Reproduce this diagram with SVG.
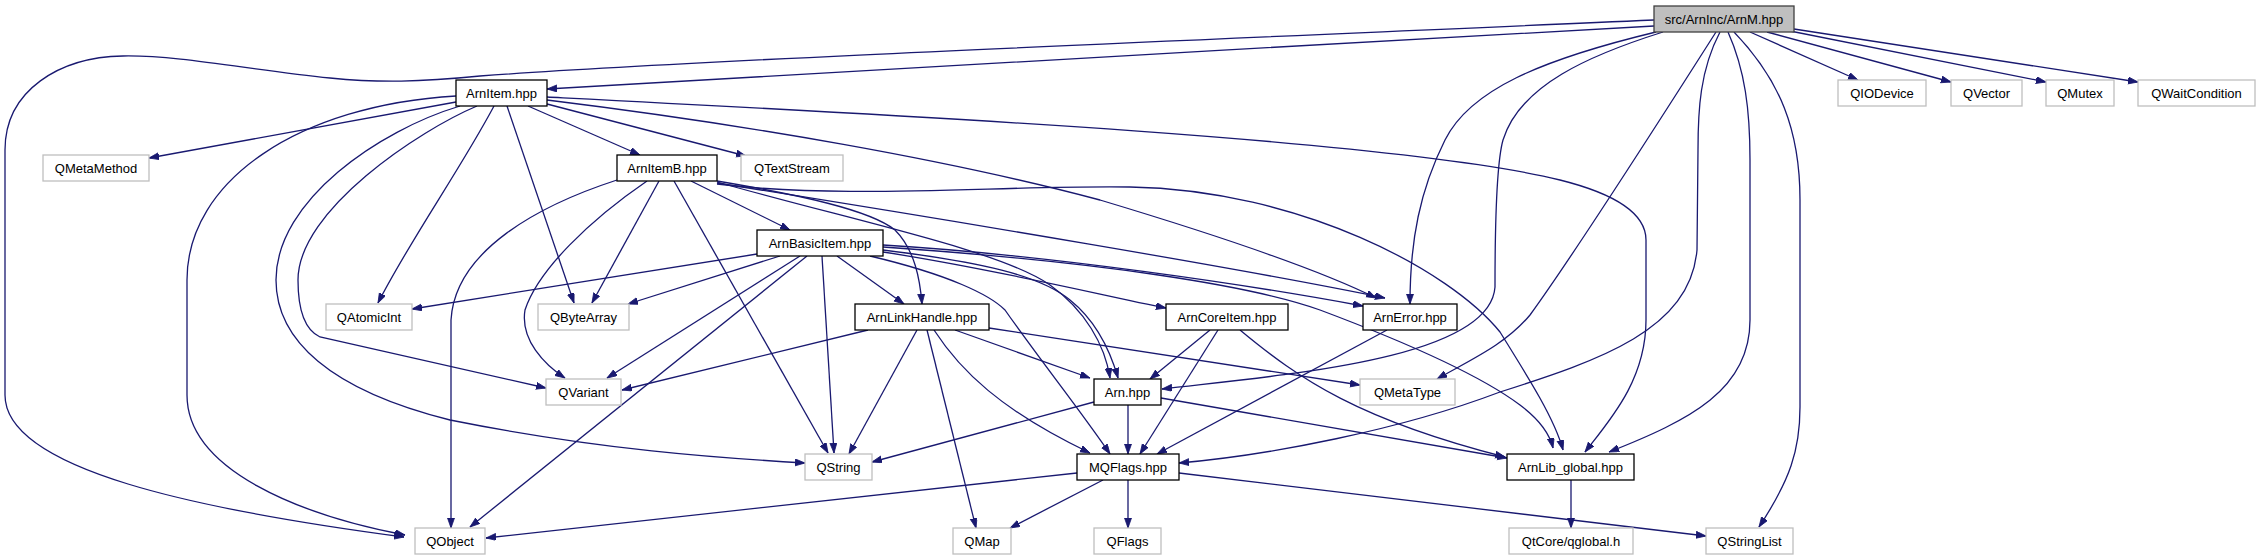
<svg xmlns="http://www.w3.org/2000/svg" width="2258" height="560" viewBox="0 0 2258 560">
<style>
  .e { fill: none; stroke: #191970; stroke-width: 1.3; }
  .n rect { fill: #ffffff; stroke: #000000; stroke-width: 1.3; }
  .x rect { fill: #ffffff; stroke: #bfbfbf; stroke-width: 1.3; }
  .r rect { fill: #bfbfbf; stroke: #404040; stroke-width: 1.3; }
  text { font-family: "Liberation Sans", Arial, sans-serif; font-size: 13px; fill: #000000; text-anchor: middle; }
</style>
<defs>
  <marker id="a" markerUnits="userSpaceOnUse" markerWidth="11" markerHeight="8" refX="10" refY="3.5" orient="auto">
    <path d="M0,0 L10,3.5 L0,7 z" fill="#191970" stroke="#191970" stroke-width="0.8"/>
  </marker>
</defs>
<rect width="2258" height="560" fill="#ffffff"/>
<g id="connectors">
  <!-- ArnM -->
  <path class="e" marker-end="url(#a)" d="M1654,20 C1200,40 700,60 480,76 C420,82 380,83 330,78 C250,70 180,55 123,56 C60,57 5,90 5,150 L5,395 C5,470 200,510 404,537"/>
  <path class="e" marker-end="url(#a)" d="M1654,26 C1300,45 800,75 547,89"/>
  <path class="e" marker-end="url(#a)" d="M1750,32 L1858,80"/>
  <path class="e" marker-end="url(#a)" d="M1767,32 L1951,82"/>
  <path class="e" marker-end="url(#a)" d="M1790,31 L2046,82"/>
  <path class="e" marker-end="url(#a)" d="M1794,29 L2138,82"/>
  <path class="e" marker-end="url(#a)" d="M1656,32 C1540,60 1470,90 1445,140 C1420,190 1410,240 1410,304"/>
  <path class="e" marker-end="url(#a)" d="M1663,32 C1590,55 1520,85 1503,140 C1496,165 1495,250 1495,287 C1490,360 1280,375 1162,389"/>
  <path class="e" marker-end="url(#a)" d="M1716,32 C1660,120 1570,260 1530,315 C1505,345 1470,360 1437,379"/>
  <path class="e" marker-end="url(#a)" d="M1720,32 C1700,70 1698,110 1698,150 L1697,250 C1690,330 1600,360 1500,392 C1400,430 1270,455 1179,463"/>
  <path class="e" marker-end="url(#a)" d="M1728,32 C1745,70 1750,110 1750,160 L1750,320 C1750,390 1690,420 1609,452"/>
  <path class="e" marker-end="url(#a)" d="M1734,32 C1780,80 1800,130 1800,200 L1800,407 C1800,450 1790,480 1759,527"/>
  <!-- ArnItem -->
  <path class="e" marker-end="url(#a)" d="M456,102 L149,158"/>
  <path class="e" marker-end="url(#a)" d="M528,106 L640,155"/>
  <path class="e" marker-end="url(#a)" d="M547,104 L746,156"/>
  <path class="e" marker-end="url(#a)" d="M547,100 C750,125 950,160 1100,200 C1250,245 1330,275 1376,298"/>
  <path class="e" marker-end="url(#a)" d="M547,97 C900,115 1400,140 1560,180 C1620,195 1646,215 1646,240 L1646,320 C1646,380 1610,420 1585,452"/>
  <path class="e" marker-end="url(#a)" d="M494,106 C460,170 410,240 378,303"/>
  <path class="e" marker-end="url(#a)" d="M507,106 L574,303"/>
  <path class="e" marker-end="url(#a)" d="M477,106 C420,130 298,210 298,280 C298,310 305,330 320,337 L546,388"/>
  <path class="e" marker-end="url(#a)" d="M460,106 C380,130 276,200 276,280 C276,340 330,390 450,420 C600,450 720,458 805,463"/>
  <path class="e" marker-end="url(#a)" d="M456,96 C300,105 187,180 187,280 L187,395 C187,470 300,515 405,535"/>
  <!-- ArnItemB -->
  <path class="e" marker-end="url(#a)" d="M617,180 C540,205 455,250 451,320 L451,528"/>
  <path class="e" marker-end="url(#a)" d="M647,181 C590,220 538,270 525,310 C520,340 545,365 565,378"/>
  <path class="e" marker-end="url(#a)" d="M659,181 L592,303"/>
  <path class="e" marker-end="url(#a)" d="M674,181 L828,453"/>
  <path class="e" marker-end="url(#a)" d="M691,181 L790,230"/>
  <path class="e" marker-end="url(#a)" d="M717,181 C800,195 870,210 895,230 C915,250 920,280 922,304"/>
  <path class="e" marker-end="url(#a)" d="M717,182 C850,220 1000,250 1050,285 C1085,310 1105,345 1110,378"/>
  <path class="e" marker-end="url(#a)" d="M717,183 C950,220 1250,270 1385,298"/>
  <path class="e" marker-end="url(#a)" d="M717,184 C850,200 1000,185 1130,187 C1300,190 1450,270 1500,332 C1530,380 1555,420 1563,450"/>
  <!-- ArnBasicItem -->
  <path class="e" marker-end="url(#a)" d="M757,254 L412,309"/>
  <path class="e" marker-end="url(#a)" d="M780,256 L628,304"/>
  <path class="e" marker-end="url(#a)" d="M800,256 L607,378"/>
  <path class="e" marker-end="url(#a)" d="M807,256 L470,527"/>
  <path class="e" marker-end="url(#a)" d="M822,256 L834,453"/>
  <path class="e" marker-end="url(#a)" d="M837,256 L904,304"/>
  <path class="e" marker-end="url(#a)" d="M883,252 C1000,270 1100,295 1166,308"/>
  <path class="e" marker-end="url(#a)" d="M883,245 C1050,255 1250,285 1363,306"/>
  <path class="e" marker-end="url(#a)" d="M883,250 C980,262 1040,275 1070,300 C1095,320 1110,350 1118,378"/>
  <path class="e" marker-end="url(#a)" d="M870,256 C950,275 990,295 1005,310 C1040,360 1080,410 1110,454"/>
  <path class="e" marker-end="url(#a)" d="M883,247 C1100,262 1250,285 1320,310 C1400,340 1480,375 1520,405 C1540,420 1550,435 1553,448"/>
  <!-- ArnLinkHandle -->
  <path class="e" marker-end="url(#a)" d="M868,330 L622,390"/>
  <path class="e" marker-end="url(#a)" d="M917,330 L849,454"/>
  <path class="e" marker-end="url(#a)" d="M927,330 L976,528"/>
  <path class="e" marker-end="url(#a)" d="M934,330 C960,370 1000,410 1090,453"/>
  <path class="e" marker-end="url(#a)" d="M955,330 L1090,378"/>
  <path class="e" marker-end="url(#a)" d="M989,328 L1360,385"/>
  <!-- ArnCoreItem -->
  <path class="e" marker-end="url(#a)" d="M1210,330 L1150,379"/>
  <path class="e" marker-end="url(#a)" d="M1218,330 L1140,454"/>
  <path class="e" marker-end="url(#a)" d="M1240,330 C1300,380 1360,420 1505,457"/>
  <!-- ArnError -->
  <path class="e" marker-end="url(#a)" d="M1387,330 L1157,454"/>
  <!-- Arn -->
  <path class="e" marker-end="url(#a)" d="M1094,402 L872,462"/>
  <path class="e" marker-end="url(#a)" d="M1128,405 L1128,454"/>
  <path class="e" marker-end="url(#a)" d="M1161,398 L1507,458"/>
  <!-- MQFlags -->
  <path class="e" marker-end="url(#a)" d="M1077,473 L486,538"/>
  <path class="e" marker-end="url(#a)" d="M1103,480 L1010,528"/>
  <path class="e" marker-end="url(#a)" d="M1128,480 L1128,528"/>
  <path class="e" marker-end="url(#a)" d="M1179,473 L1706,536"/>
  <!-- ArnLib_global -->
  <path class="e" marker-end="url(#a)" d="M1571,480 L1571,528"/>
</g>
<g id="node-ArnM" class="r"><rect x="1654" y="6" width="140" height="26"/><text x="1724" y="23.5">src/ArnInc/ArnM.hpp</text></g>
<g id="node-ArnItem" class="n"><rect x="456" y="80" width="91" height="26"/><text x="501.5" y="97.5">ArnItem.hpp</text></g>
<g id="node-QIODevice" class="x"><rect x="1838" y="80" width="88" height="26"/><text x="1882" y="97.5">QIODevice</text></g>
<g id="node-QVector" class="x"><rect x="1951" y="80" width="71" height="26"/><text x="1986.5" y="97.5">QVector</text></g>
<g id="node-QMutex" class="x"><rect x="2046" y="80" width="68" height="26"/><text x="2080" y="97.5">QMutex</text></g>
<g id="node-QWaitCondition" class="x"><rect x="2138" y="80" width="117" height="26"/><text x="2196.5" y="97.5">QWaitCondition</text></g>
<g id="node-QMetaMethod" class="x"><rect x="43" y="155" width="106" height="26"/><text x="96" y="172.5">QMetaMethod</text></g>
<g id="node-ArnItemB" class="n"><rect x="617" y="155" width="100" height="26"/><text x="667" y="172.5">ArnItemB.hpp</text></g>
<g id="node-QTextStream" class="x"><rect x="741" y="155" width="102" height="26"/><text x="792" y="172.5">QTextStream</text></g>
<g id="node-ArnBasicItem" class="n"><rect x="757" y="230" width="126" height="26"/><text x="820" y="247.5">ArnBasicItem.hpp</text></g>
<g id="node-QAtomicInt" class="x"><rect x="326" y="304" width="86" height="26"/><text x="369" y="321.5">QAtomicInt</text></g>
<g id="node-QByteArray" class="x"><rect x="538" y="304" width="91" height="26"/><text x="583.5" y="321.5">QByteArray</text></g>
<g id="node-ArnLinkHandle" class="n"><rect x="855" y="304" width="134" height="26"/><text x="922" y="321.5">ArnLinkHandle.hpp</text></g>
<g id="node-ArnCoreItem" class="n"><rect x="1166" y="304" width="122" height="26"/><text x="1227" y="321.5">ArnCoreItem.hpp</text></g>
<g id="node-ArnError" class="n"><rect x="1363" y="304" width="94" height="26"/><text x="1410" y="321.5">ArnError.hpp</text></g>
<g id="node-QVariant" class="x"><rect x="546" y="379" width="75" height="26"/><text x="583.5" y="396.5">QVariant</text></g>
<g id="node-Arn" class="n"><rect x="1094" y="379" width="67" height="26"/><text x="1127.5" y="396.5">Arn.hpp</text></g>
<g id="node-QMetaType" class="x"><rect x="1360" y="379" width="95" height="26"/><text x="1407.5" y="396.5">QMetaType</text></g>
<g id="node-QString" class="x"><rect x="805" y="454" width="67" height="26"/><text x="838.5" y="471.5">QString</text></g>
<g id="node-MQFlags" class="n"><rect x="1077" y="454" width="102" height="26"/><text x="1128" y="471.5">MQFlags.hpp</text></g>
<g id="node-ArnLib_global" class="n"><rect x="1507" y="454" width="127" height="26"/><text x="1570.5" y="471.5">ArnLib_global.hpp</text></g>
<g id="node-QObject" class="x"><rect x="415" y="528" width="70" height="26"/><text x="450" y="545.5">QObject</text></g>
<g id="node-QMap" class="x"><rect x="953" y="528" width="58" height="26"/><text x="982" y="545.5">QMap</text></g>
<g id="node-QFlags" class="x"><rect x="1094" y="528" width="67" height="26"/><text x="1127.5" y="545.5">QFlags</text></g>
<g id="node-qglobal" class="x"><rect x="1509" y="528" width="124" height="26"/><text x="1571" y="545.5">QtCore/qglobal.h</text></g>
<g id="node-QStringList" class="x"><rect x="1706" y="528" width="87" height="26"/><text x="1749.5" y="545.5">QStringList</text></g>
</svg>
